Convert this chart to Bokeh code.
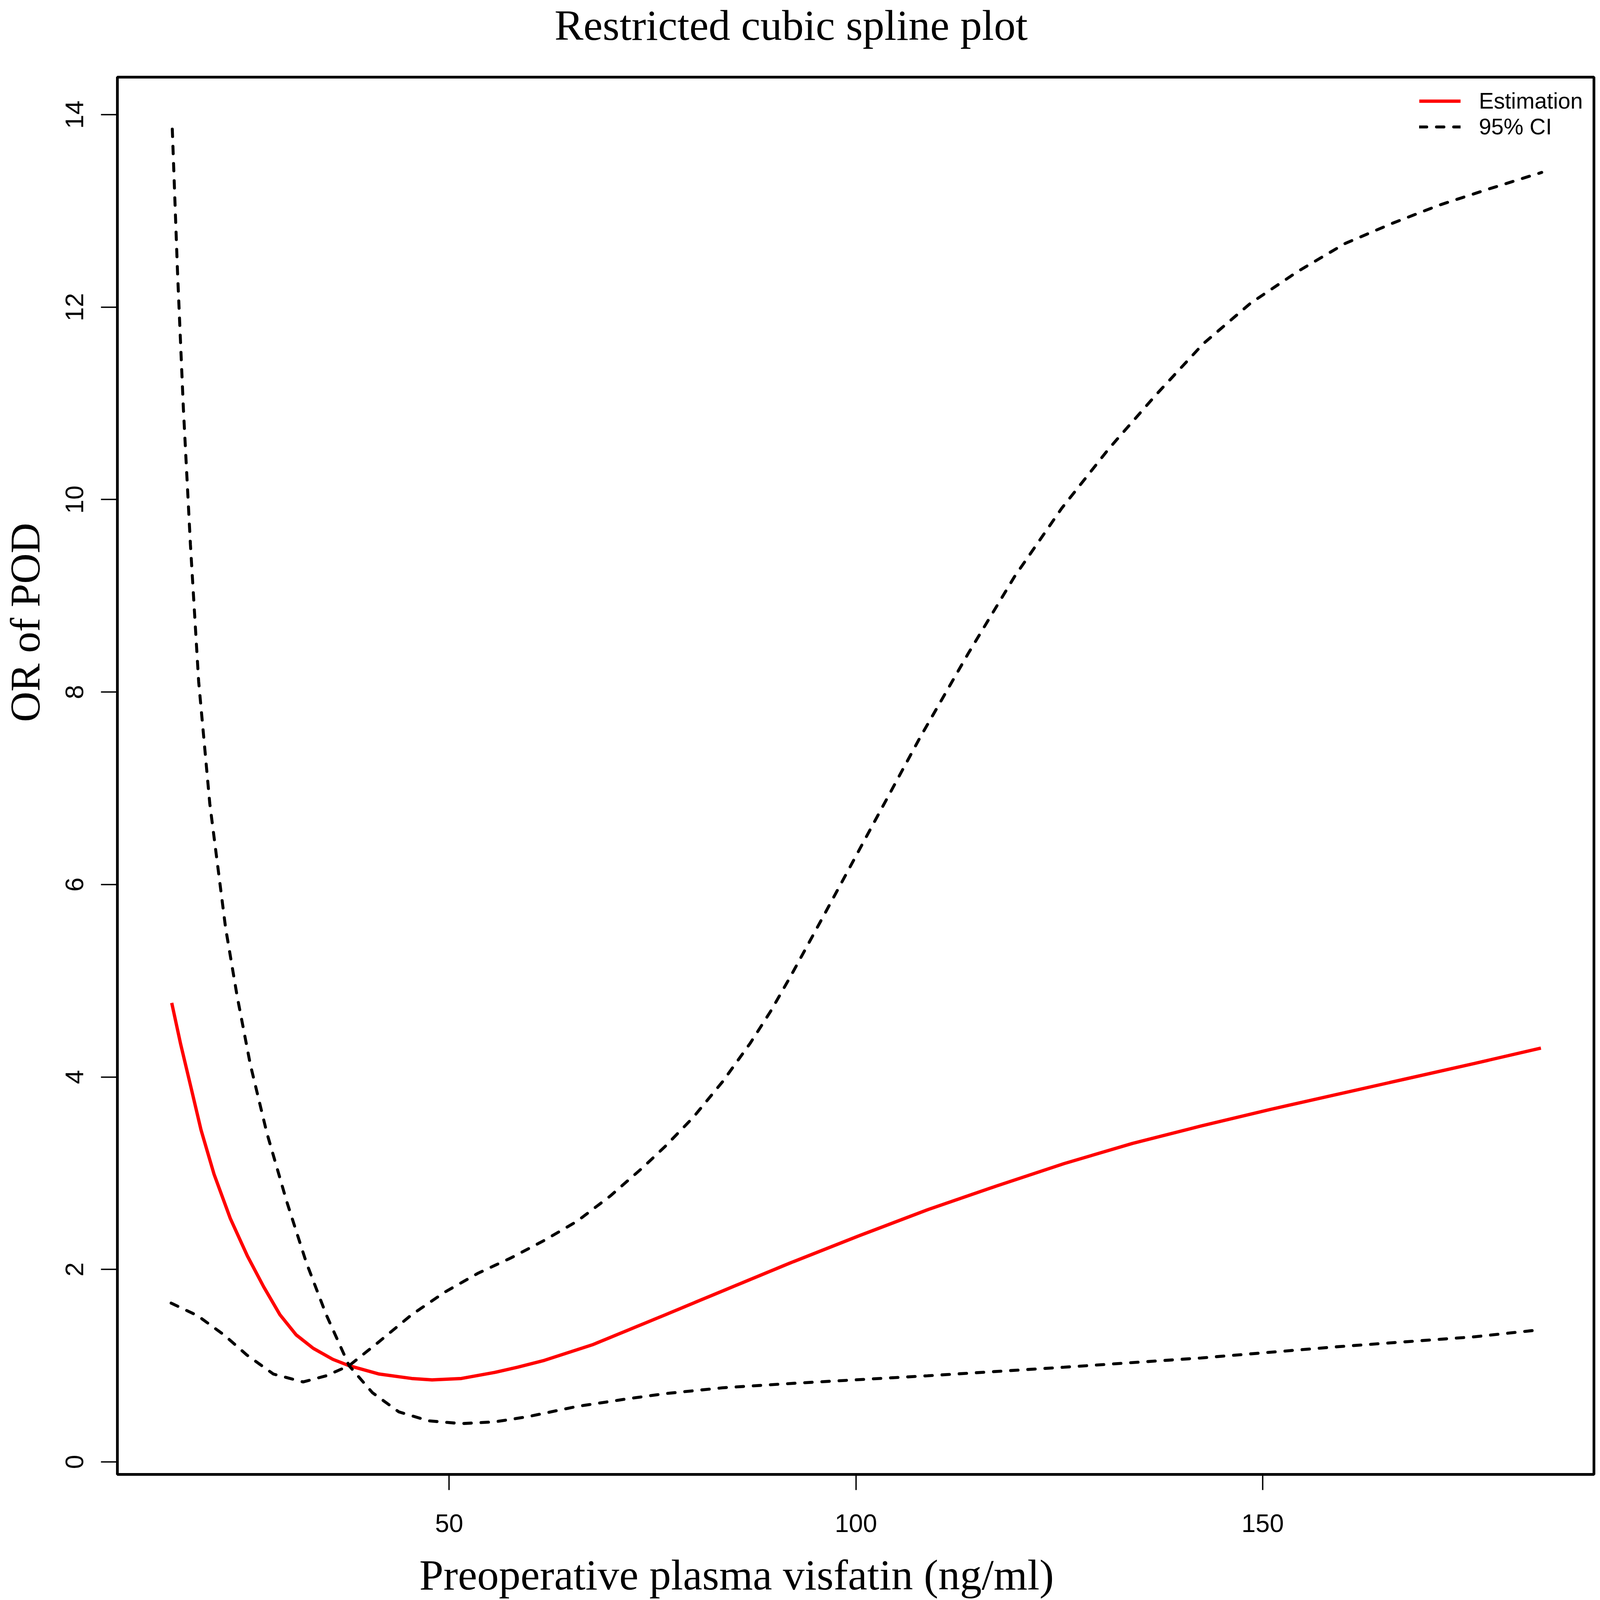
from bokeh.plotting import figure
from bokeh.models import Range1d, FixedTicker, Legend, LegendItem, Title
from bokeh.embed import file_html
from bokeh.resources import INLINE

# ---------------- data ----------------
est_x = [15.9, 17.0, 18.3, 19.5, 21.1, 23.1, 25.2, 27.2, 29.2, 31.2, 33.3, 35.7,
         37.7, 41.4, 45.4, 47.9, 51.5, 55.6, 58.4, 61.7, 67.7, 76.6, 83.6, 92.0,
         100.4, 108.8, 117.2, 125.6, 134.0, 142.4, 150.8, 159.2, 167.6, 176.0, 184.2]
est_y = [4.77, 4.34, 3.88, 3.45, 2.99, 2.53, 2.14, 1.82, 1.53, 1.32, 1.18, 1.066,
         1.0, 0.913, 0.867, 0.852, 0.867, 0.93, 0.984, 1.055, 1.22, 1.53, 1.776, 2.07,
         2.35, 2.62, 2.865, 3.10, 3.31, 3.49, 3.66, 3.82, 3.98, 4.14, 4.30]

ci_a_x = [15.97, 16.61, 17.33, 18.2, 19.21, 20.58, 22.52, 23.94, 25.56, 27.59, 30.02,
          32.45, 34.89, 37.7, 40.56, 43.81, 47.46, 51.5, 55.6, 59.6, 65.7, 71.8, 76.6,
          83.6, 92.0, 108.8, 125.6, 142.4, 159.2, 176.0, 184.2]
ci_a_y = [13.85, 12.37, 10.95, 9.53, 8.11, 6.84, 5.55, 4.84, 4.13, 3.42, 2.71,
          2.07, 1.53, 1.0, 0.72, 0.52, 0.427, 0.398, 0.416, 0.469, 0.576, 0.654, 0.71,
          0.77, 0.815, 0.895, 0.984, 1.08, 1.197, 1.30, 1.374]

ci_b_x = [15.83, 19.07, 22.32, 25.15, 28.4, 32.05, 34.89, 37.7, 41.4, 45.4, 49.48,
          53.54, 57.6, 61.65, 65.71, 69.76, 73.82, 76.57, 80.0, 83.6, 87.0, 89.5, 92.0,
          96.0, 102.2, 107.9, 113.8, 119.5, 125.3, 131.1, 136.9, 142.7, 148.5, 154.3,
          160.1, 165.9, 171.7, 177.5, 184.3]
ci_b_y = [1.65, 1.52, 1.32, 1.11, 0.913, 0.831, 0.895, 1.0, 1.25, 1.53, 1.765,
          1.96, 2.12, 2.30, 2.50, 2.76, 3.06, 3.28, 3.58, 3.95, 4.35, 4.68, 5.05,
          5.67, 6.64, 7.53, 8.40, 9.20, 9.91, 10.53, 11.09, 11.62, 12.04, 12.37,
          12.66, 12.87, 13.06, 13.22, 13.40]

x_ticks = [50, 100, 150]
y_ticks = [0, 2, 4, 6, 8, 10, 12, 14]

title_text = "Restricted cubic spline plot"
x_label_text = "Preoperative plasma visfatin (ng/ml)"
y_label_text = "OR of POD"
legend_labels = ["Estimation", "95% CI"]

# ---------------- layout: reference pixels mapped onto the visible page ----
W = H = 4094
SX, SY = W / 4328, H / 4478
f_left, f_right = round(317 * SX), round(4313 * SX)
f_top, f_bottom = round(216 * SY), round(4130 * SY)

p = figure(width=W, height=H, output_backend="svg", toolbar_location=None,
           x_range=Range1d(9.22, 190.72), y_range=Range1d(-0.13, 14.39),
           min_border_left=f_left, min_border_right=W - f_right,
           min_border_top=f_top, min_border_bottom=H - f_bottom)
p.title.text = ""
p.title.visible = False
p.grid.visible = False
p.background_fill_color = "white"
p.border_fill_color = "white"
p.outline_line_color = "black"
p.outline_line_width = 7

p.xaxis.ticker = FixedTicker(ticks=x_ticks)
p.yaxis.ticker = FixedTicker(ticks=y_ticks)
p.axis.axis_line_color = None
p.xaxis.major_tick_out = round(44 * SY)
p.yaxis.major_tick_out = round(44 * SX)
p.axis.major_tick_in = 0
p.axis.minor_tick_out = 0
p.axis.minor_tick_in = 0
p.axis.major_tick_line_width = 3.5
p.axis.major_tick_line_color = "black"
p.axis.major_label_text_font = "Liberation Sans"
p.axis.major_label_text_font_size = "65px"
p.axis.major_label_text_color = "black"
p.xaxis.major_label_standoff = 62
p.yaxis.major_label_standoff = 45
p.yaxis.major_label_orientation = "parallel"

dash = "19 25"
r_est = p.line(est_x, est_y, line_color="#FF0000", line_width=8.5)
r_ca = p.line(ci_a_x, ci_a_y, line_color="black", line_width=7.6,
              line_dash=dash, line_cap="round")
r_cb = p.line(ci_b_x, ci_b_y, line_color="black", line_width=7.6,
              line_dash=dash, line_cap="round")

legend = Legend(items=[LegendItem(label=legend_labels[0], renderers=[r_est]),
                       LegendItem(label=legend_labels[1], renderers=[r_ca])],
                location="top_right", margin=28, padding=0, spacing=0,
                glyph_width=round(112 * SX), glyph_height=round(71 * SY),
                label_height=round(71 * SY), label_standoff=round(50 * SX),
                label_text_font="Liberation Sans", label_text_font_size="57px",
                label_text_color="black", border_line_alpha=0,
                background_fill_alpha=0)
p.add_layout(legend)

serif = "Liberation Serif"

def spacer(size):
    # empty title used only as a gap between panels
    return Title(text=" ", text_font_size="1px", standoff=size - 3,
                 text_color="white")

# title: gap panel next to the frame, then the title itself
p.add_layout(spacer(70), "above")
p.add_layout(Title(text=title_text, align="left", offset=round(1500 * SX) - f_left,
                   vertical_align="top", standoff=0, text_font=serif,
                   text_font_size="111px", text_font_style="normal",
                   text_color="black"), "above")
# x label
p.add_layout(spacer(45), "below")
p.add_layout(Title(text=x_label_text, align="left",
                   offset=round(1134 * SX) - f_left, vertical_align="top",
                   standoff=0, text_font=serif, text_font_size="111px",
                   text_font_style="normal", text_color="black"), "below")
# y label
p.add_layout(spacer(40), "left")
p.add_layout(Title(text=y_label_text, align="left",
                   offset=f_bottom - round(2024 * SY), vertical_align="top",
                   standoff=0, text_font=serif, text_font_size="108px",
                   text_font_style="normal", text_color="black"), "left")

open("out.html", "w").write(file_html(p, INLINE))
